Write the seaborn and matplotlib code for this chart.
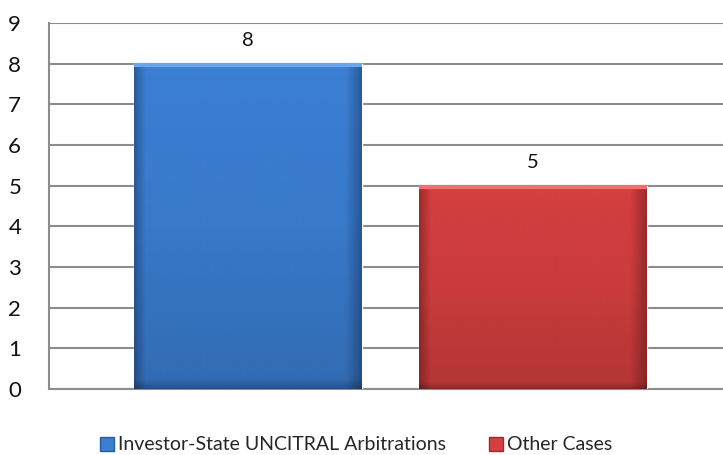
import matplotlib
matplotlib.use("Agg")
import matplotlib.pyplot as plt
import seaborn as sns
import pandas as pd
import numpy as np
from matplotlib.colors import LinearSegmentedColormap

series = ["Investor-State UNCITRAL Arbitrations", "Other Cases"]
values = [8, 5]
colors = ["#3b7fd3", "#d43f3f"]
dark = ["#2a5b9c", "#9c2c2c"]
light = ["#6aa6ec", "#ee7070"]
yticks = list(range(0, 10))

df = pd.DataFrame({"cat": [""] * len(series), "series": series, "value": values})

sns.set_theme(style="white")
plt.rcParams["font.family"] = ["Lato", "DejaVu Sans"]

fig = plt.figure(figsize=(7.23, 4.55), dpi=100)
ax = fig.add_axes([49 / 723, 66 / 455, 674 / 723, 366 / 455])

sns.barplot(data=df, x="cat", y="value", hue="series", palette=colors,
            width=0.8, gap=0.2, ax=ax, legend=True, zorder=3)

# bevel look: narrow darker bands along the sides and base, light top rim
for i, p in enumerate(ax.patches[:len(series)]):
    x0, y0 = p.get_x(), p.get_y()
    w, h = p.get_width(), p.get_height()
    cmap = LinearSegmentedColormap.from_list(
        "g", [(0, dark[i]), (0.05, colors[i]), (0.93, colors[i]), (1, dark[i])])
    grad = np.linspace(0, 1, 256).reshape(1, -1)
    im = ax.imshow(grad, cmap=cmap, aspect="auto", extent=[x0, x0 + w, y0, y0 + h],
                   zorder=3.5)
    im.set_clip_path(p)
    cm2 = LinearSegmentedColormap.from_list(
        "v", [(0, (0, 0, 0, 0.0)), (0.5, (0, 0, 0, 0.05)), (0.97, (0, 0, 0, 0.15)),
              (1, (0, 0, 0, 0.35))])
    vgrad = np.linspace(0, 1, 256).reshape(-1, 1)
    im2 = ax.imshow(vgrad, cmap=cm2, aspect="auto", extent=[x0, x0 + w, y0, y0 + h],
                    origin="upper", zorder=3.6)
    im2.set_clip_path(p)
    ax.plot([x0, x0 + w], [y0 + h - 0.04, y0 + h - 0.04], color=light[i], lw=3,
            zorder=3.7, solid_capstyle="butt")
    ax.text(x0 + w / 2, y0 + h + 0.35, str(values[i]), ha="center", va="bottom",
            fontsize=14.5, color="#111111", zorder=4)

ax.set_xlim(-0.4796, 0.467)
ax.set_ylim(0, 9)
ax.set_yticks(yticks)
ax.set_yticklabels([str(t) for t in yticks])
ax.set_xticks([])
ax.set_xlabel("")
ax.set_ylabel("")
ax.grid(axis="y", color="#8c8c8c", lw=1.5, zorder=0)
ax.tick_params(axis="y", length=0, pad=20, labelsize=16, labelcolor="#111111")
for s in ["top", "right"]:
    ax.spines[s].set_visible(False)
for s in ["left", "bottom"]:
    ax.spines[s].set_color("#8c8c8c")
    ax.spines[s].set_linewidth(1.5)

ax.legend_.remove()
handles = [plt.Rectangle((0, 0), 1, 1, facecolor=c, edgecolor=d) for c, d in zip(colors, dark)]
fig.legend(handles, series, loc="center", bbox_to_anchor=(356 / 723, 10 / 455),
           ncol=2, frameon=False, fontsize=14, handlelength=0.75, handleheight=0.75,
           handletextpad=0.2, columnspacing=2.2)

fig.savefig("out.png", dpi=100)
